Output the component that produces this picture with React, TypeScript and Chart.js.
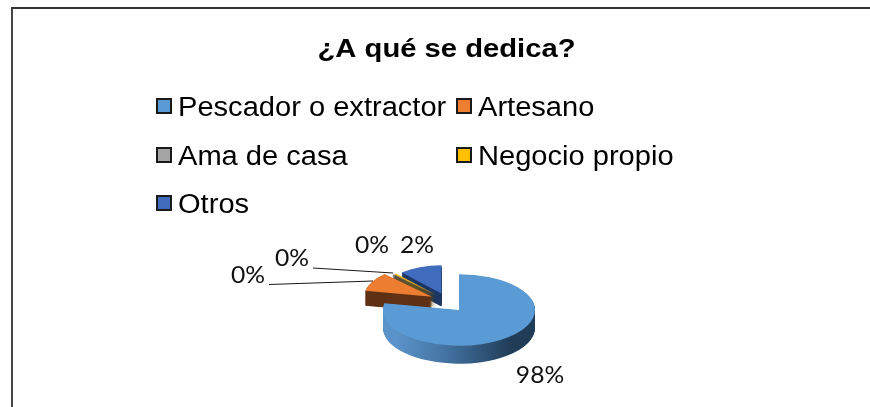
import React, { useEffect, useRef } from "react";
import { Chart, registerables } from "chart.js";

Chart.register(...registerables);

const categories = ["Pescador o extractor", "Artesano", "Ama de casa", "Negocio propio", "Otros"];
// Slice sizes as they are drawn in the picture
const drawnShares = [78.0, 9.7, 0.2, 0.6, 11.5];
// Percentages as printed on the labels
const printedLabels = ["98%", "0%", "0%", "0%", "2%"];
const titleText = "¿A qué se dedica?";

const faceColors = ["#5b9bd5", "#ed7d31", "#a5a5a5", "#ffc000", "#3f6cbd"];
const sideColors = ["#2a4f73", "#5f3216", "#535353", "#6f5400", "#1f3864"];

const CX = 459, CY = 310, SQUASH = 0.47;
const radii = [76, 68, 62, 61, 60];
const depths = [18, 15, 13, 13, 13];
const explode = [0, 17, 16, 16, 16];
const labelPos = [[540, 376], [248, 276], [292, 259], [372, 246], [417, 246]];
const leaders = [[[269, 284.5], [373, 281]], [[313, 268], [393, 273]]];
const legendPos = [[156, 106], [456, 106], [156, 155], [456, 155], [156, 203]];

const stretchedText = (ctx: any, t: string, x: number, y: number, sx: number) => {
  ctx.save();
  ctx.translate(x, y);
  ctx.scale(sx, 1);
  ctx.fillText(t, 0, 0);
  ctx.restore();
};

const pie3d = {
  id: "pie3d",
  afterLayout(chart: any) {
    const tb = chart.titleBlock;
    if (tb && !tb.__wrapped) {
      const d = tb.draw;
      tb.__wrapped = true;
      tb.draw = function (this: any, area: any) {
        const c = chart.ctx;
        const mid = chart.width / 2;
        c.save();
        c.translate(mid, 0);
        c.scale(1.123, 1);
        c.translate(-mid, 0);
        d.call(tb, area);
        c.restore();
      };
    }
  },
  afterDatasetsUpdate(chart: any) {
    chart.getDatasetMeta(0).data.forEach((a: any, i: number) => { a.outerRadius = radii[i]; });
  },
  beforeDatasetsDraw(chart: any) {
    const ctx = chart.ctx;
    const arcs = chart.getDatasetMeta(0).data;
    const sideGrad = ctx.createLinearGradient(CX - 75, 0, CX + 40, 0);
    sideGrad.addColorStop(0, "#5a93c9");
    sideGrad.addColorStop(0.45, "#42719f");
    sideGrad.addColorStop(1, "#203c57");
    [4, 3, 2, 1, 0].forEach((i) => {
      const a = arcs[i];
      const orig = a.options;
      const mid = (a.startAngle + a.endAngle) / 2;
      const ex = Math.cos(mid) * explode[i];
      const ey = Math.sin(mid) * explode[i];
      const base = i === 0 ? [0, 0] : [-12, -20];
      const paint = (dy: number, color: any) => {
        ctx.save();
        ctx.translate(CX + base[0] + ex, CY + dy);
        ctx.scale(1, SQUASH);
        ctx.translate(-a.x, -a.y + (base[1] + ey));
        const o = Object.create(orig);
        o.backgroundColor = color;
        o.borderWidth = 0;
        a.options = o;
        a.draw(ctx);
        a.options = orig;
        ctx.restore();
      };
      for (let d = depths[i]; d > 0; d -= 0.5) paint(d, i === 0 ? sideGrad : sideColors[i]);
      paint(0, faceColors[i]);
    });
    return false;
  },
  afterDraw(chart: any) {
    const ctx = chart.ctx;
    ctx.save();
    ctx.strokeStyle = "#1a1a1a";
    ctx.lineWidth = 1;
    leaders.forEach(([p, q]) => {
      ctx.beginPath();
      ctx.moveTo(p[0], p[1]);
      ctx.lineTo(q[0], q[1]);
      ctx.stroke();
    });
    ctx.fillStyle = "#111";
    ctx.font = "23px Lato";
    ctx.textAlign = "center";
    ctx.textBaseline = "middle";
    printedLabels.forEach((t, i) => stretchedText(ctx, t, labelPos[i][0], labelPos[i][1], 1.07));

    ctx.textAlign = "left";
    ctx.font = '27px "Liberation Sans"';
    categories.forEach((t, i) => {
      const [x, y] = legendPos[i];
      ctx.fillStyle = faceColors[i];
      ctx.fillRect(x + 1, y - 7, 14, 14);
      ctx.strokeStyle = "#1a1a1a";
      ctx.lineWidth = 2;
      ctx.strokeRect(x + 1, y - 7, 14, 14);
      ctx.fillStyle = "#000";
      stretchedText(ctx, t, x + 22, y + 3, 1.077);
    });
    ctx.restore();
  },
};

export default function App() {
  const ref = useRef<HTMLCanvasElement>(null);
  useEffect(() => {
    const chart = new Chart(ref.current!, {
      type: "pie",
      data: {
        labels: categories,
        datasets: [{ data: drawnShares, backgroundColor: faceColors, borderWidth: 0 }],
      },
      options: {
        animation: false,
        responsive: false,
        devicePixelRatio: 1,
        rotation: 0,
        plugins: {
          legend: { display: false },
          tooltip: { enabled: false },
          title: {
            display: true,
            text: titleText,
            color: "#000",
            font: { family: '"Liberation Sans"', size: 26, weight: "bold" },
            padding: { top: 34, bottom: 10 },
          },
        },
      },
      plugins: [pie3d],
    } as any);
    return () => chart.destroy();
  }, []);
  return (
    <div style={{ position: "fixed", left: 0, top: 0, width: 870, height: 407, overflow: "hidden", background: "#fff" }}>
      <canvas ref={ref} width={893} height={407} style={{ position: "absolute", left: 0, top: 0, width: 893, height: 407 }} />
      <div style={{ position: "absolute", left: 11, top: 7, width: 900, height: 500, borderLeft: "2px solid #444", borderTop: "2px solid #333" }} />
    </div>
  );
}
